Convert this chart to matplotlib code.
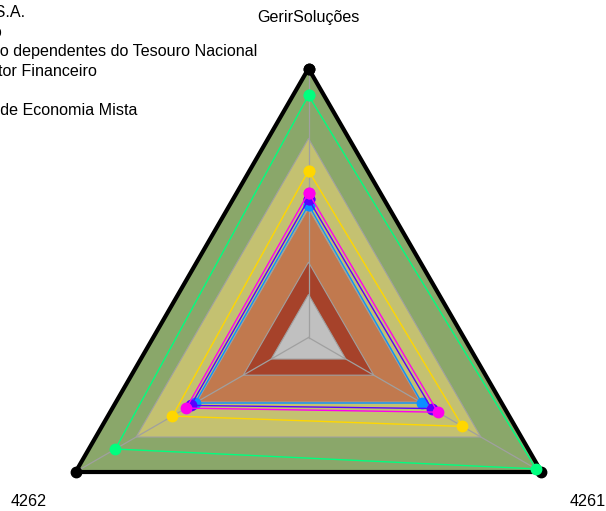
import numpy as np
import matplotlib
matplotlib.use("Agg")
import matplotlib.pyplot as plt
from matplotlib.transforms import offset_copy

plt.rcParams["font.family"] = ["Liberation Sans", "DejaVu Sans"]

# axes of the radar, clockwise from the top
categories = ["GerirSoluções", "4261", "4262"]

# background bands (outer radius of each ring), inside -> out
band_limits = [0.16, 0.28, 0.48, 0.74, 1.0]
band_colors = ["#c0c0c0", "#a6422a", "#c1794e", "#c4c171", "#8aa76a"]

labels = [
    "Petrobras S.A.",
    "Setor Misto",
    "Estatais não dependentes do Tesouro Nacional",
    "Estatal, Setor Financeiro",
    "Máximo",
    "Sociedade de Economia Mista",
]
values = [
    [0.90, 0.977, 0.829],
    [0.62, 0.661, 0.584],
    [0.538, 0.555, 0.525],
    [0.514, 0.528, 0.505],
    [1.0, 1.0, 1.0],
    [0.493, 0.487, 0.487],
]
colors = ["#00ff7f", "#ffd700", "#ff00ee", "#5a00ff", "#000000", "#0a90ff"]
zorders = [8, 6, 7, 6.5, 5, 6.2]

angles = np.linspace(0, 2 * np.pi, len(categories), endpoint=False)
closed = np.append(angles, angles[0])

fig = plt.figure(figsize=(6.06, 5.11), dpi=100)
ax = fig.add_axes([0.0652, -0.1869, 0.8878, 1.0528], projection="polar")
ax.set_theta_offset(np.pi / 2)
ax.set_theta_direction(-1)
ax.set_ylim(0, 1)
ax.grid(False)
ax.spines["polar"].set_visible(False)
ax.set_xticks([])
ax.set_yticks([])
ax.patch.set_visible(False)

for r, c in zip(band_limits[::-1], band_colors[::-1]):
    ax.fill(closed, [r] * len(closed), color=c, ec="#a0a0a0", lw=0.8, zorder=1)

for a in angles:
    ax.plot([a, a], [0, 1], color="#a0a0a0", lw=0.9, zorder=2)

for lab, v, c, z in zip(labels, values, colors, zorders):
    v = list(v) + [v[0]]
    lw = 3 if c == "#000000" else 1
    ax.plot(closed, v, color=c, lw=lw, marker="o", ms=7.5, label=lab, zorder=z,
            solid_joinstyle="round", clip_on=False)

lab_tr = offset_copy(ax.transData, fig=fig, y=-2.5, units="dots")
for a, name in zip(angles, categories):
    ax.text(a, 1.2, name, ha="center", va="center", fontsize=11.6,
            transform=lab_tr)

fig.legend(loc="upper left", bbox_to_anchor=(-0.207, 0.99), frameon=False,
           fontsize=11.6, borderaxespad=0, borderpad=0, handlelength=2,
           handletextpad=0.8, labelspacing=0.28)

fig.savefig("out.png", dpi=100)
